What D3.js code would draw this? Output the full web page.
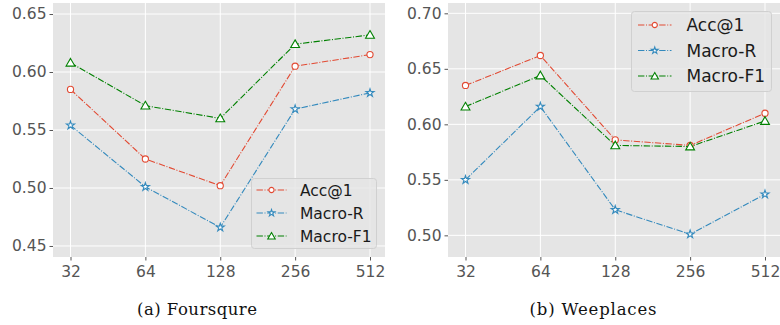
<!DOCTYPE html>
<html>
<head>
<meta charset="utf-8">
<script src="https://cdn.jsdelivr.net/npm/d3@7"></script>
<style>
  body { margin: 0; background: #fff; }
  svg { display: block; }
</style>
</head>
<body>
<div id="chart"></div>
<script>
// embedding sizes on the x axis
const dims = ["32", "64", "128", "256", "512"];

// (a) Foursquare
const fsAcc1   = [0.585, 0.525, 0.502, 0.605, 0.615];
const fsMacroR = [0.554, 0.501, 0.466, 0.568, 0.582];
const fsMacroF = [0.608, 0.571, 0.560, 0.624, 0.632];
const fsTicks  = [0.45, 0.50, 0.55, 0.60, 0.65];

// (b) Weeplaces
const wpAcc1   = [0.635, 0.662, 0.586, 0.581, 0.610];
const wpMacroR = [0.550, 0.616, 0.523, 0.501, 0.537];
const wpMacroF = [0.616, 0.644, 0.581, 0.580, 0.603];
const wpTicks  = [0.50, 0.55, 0.60, 0.65, 0.70];

const seriesNames = ["Acc@1", "Macro-R", "Macro-F1"];
const seriesColors = ["#E24A33", "#348ABD", "#008000"];
const seriesMarkers = ["circle", "star", "triangle"];

const W = 780, H = 325;
const svg = d3.select("#chart").append("svg")
  .attr("width", W).attr("height", H)
  .attr("font-family", "DejaVu Sans, sans-serif");

function marker(g, type, color, s) {
  s = s || 1;
  let sym;
  if (type === "circle") sym = d3.symbol(d3.symbolCircle, 30 * s);
  else if (type === "star") sym = d3.symbol(d3.symbolStar, 20 * s);
  else sym = d3.symbol(d3.symbolTriangle, 34 * s);
  g.append("path")
    .attr("d", sym())
    .attr("fill", "#fff")
    .attr("stroke", color)
    .attr("stroke-width", 1.1)
    .attr("transform", type === "triangle" ? "translate(0,0.8)" : null);
}

function panel(opts) {
  const { left, right, top, bottom, yDomain, ticks, series, caption, captionX, captionW, legend } = opts;
  const g = svg.append("g");

  const x = d3.scalePoint().domain(dims).range([left + 17.5, right - 15]);
  const y = d3.scaleLinear().domain(yDomain).range([bottom, top]);

  g.append("rect")
    .attr("x", left).attr("y", top)
    .attr("width", right - left).attr("height", bottom - top)
    .attr("fill", "#E5E5E5");

  // grid
  g.selectAll("line.gy").data(ticks).enter().append("line")
    .attr("x1", left).attr("x2", right)
    .attr("y1", d => y(d)).attr("y2", d => y(d))
    .attr("stroke", "#fff").attr("stroke-width", 1);
  g.selectAll("line.gx").data(dims).enter().append("line")
    .attr("y1", top).attr("y2", bottom)
    .attr("x1", d => x(d)).attr("x2", d => x(d))
    .attr("stroke", "#fff").attr("stroke-width", 1);

  // axes
  const yAxis = d3.axisLeft(y).tickValues(ticks).tickFormat(d3.format(".2f")).tickSize(3.5).tickPadding(3);
  const ya = g.append("g").attr("transform", `translate(${left},0)`).call(yAxis);
  ya.select(".domain").remove();
  ya.selectAll("line").attr("stroke", "#555");
  ya.selectAll("text").attr("fill", "#555").attr("font-size", 15.5).attr("font-family", "DejaVu Sans");

  const xAxis = d3.axisBottom(x).tickSize(3.5).tickPadding(5);
  const xa = g.append("g").attr("transform", `translate(0,${bottom})`).call(xAxis);
  xa.select(".domain").remove();
  xa.selectAll("line").attr("stroke", "#555");
  xa.selectAll("text").attr("fill", "#555").attr("font-size", 15.5).attr("font-family", "DejaVu Sans");

  // lines
  const line = d3.line().x((d, i) => x(dims[i])).y(d => y(d));
  series.forEach((vals, k) => {
    g.append("path")
      .attr("d", line(vals))
      .attr("fill", "none")
      .attr("stroke", seriesColors[k])
      .attr("stroke-width", 1.1)
      .attr("stroke-dasharray", "6.4,1.6,1,1.6");
    vals.forEach((v, i) => {
      const m = g.append("g").attr("transform", `translate(${x(dims[i])},${y(v)})`);
      marker(m, seriesMarkers[k], seriesColors[k]);
    });
  });

  // legend
  const L = legend;
  const lg = g.append("g").attr("transform", `translate(${L.x},${L.y})`);
  lg.append("rect")
    .attr("width", L.w).attr("height", L.h)
    .attr("rx", 3)
    .attr("fill", "#E5E5E5").attr("fill-opacity", 0.8)
    .attr("stroke", "#D0D0D0").attr("stroke-width", 1);
  seriesNames.forEach((name, k) => {
    const ry = L.row0 + k * L.step;
    lg.append("line")
      .attr("x1", L.lx0).attr("x2", L.lx1)
      .attr("y1", ry).attr("y2", ry)
      .attr("stroke", seriesColors[k]).attr("stroke-width", 1.1)
      .attr("stroke-dasharray", "6.4,1.6,1,1.6");
    const m = lg.append("g").attr("transform", `translate(${(L.lx0 + L.lx1) / 2},${ry})`);
    marker(m, seriesMarkers[k], seriesColors[k], 0.7);
    lg.append("text")
      .attr("x", L.tx).attr("y", ry)
      .attr("dy", "0.36em")
      .attr("font-size", L.fs)
      .attr("fill", "#1a1a1a")
      .text(name);
  });

  svg.append("text")
    .attr("x", captionX).attr("y", 315)
    .attr("text-anchor", "middle")
    .attr("font-family", "DejaVu Serif, Liberation Serif, serif")
    .attr("font-size", 16.5)
    .attr("fill", "#111")
    .attr("textLength", captionW)
    .attr("lengthAdjust", "spacing")
    .text(caption);
}

panel({
  left: 53, right: 385, top: 3, bottom: 257,
  yDomain: [0.4405, 0.6595], ticks: fsTicks,
  series: [fsAcc1, fsMacroR, fsMacroF],
  caption: "(a) Foursqure", captionX: 197, captionW: 120,
  legend: { x: 251.5, y: 178.5, w: 125, h: 70, row0: 11.5, step: 23, lx0: 5, lx1: 35, tx: 48.5, fs: 15.5 }
});

panel({
  left: 448, right: 780, top: 3, bottom: 257,
  yDomain: [0.4805, 0.7093], ticks: wpTicks,
  series: [wpAcc1, wpMacroR, wpMacroF],
  caption: "(b) Weeplaces", captionX: 593, captionW: 127,
  legend: { x: 631.5, y: 11.5, w: 140, h: 80, row0: 13.5, step: 25.5, lx0: 6.5, lx1: 40, tx: 55, fs: 17 }
});
</script>
</body>
</html>
